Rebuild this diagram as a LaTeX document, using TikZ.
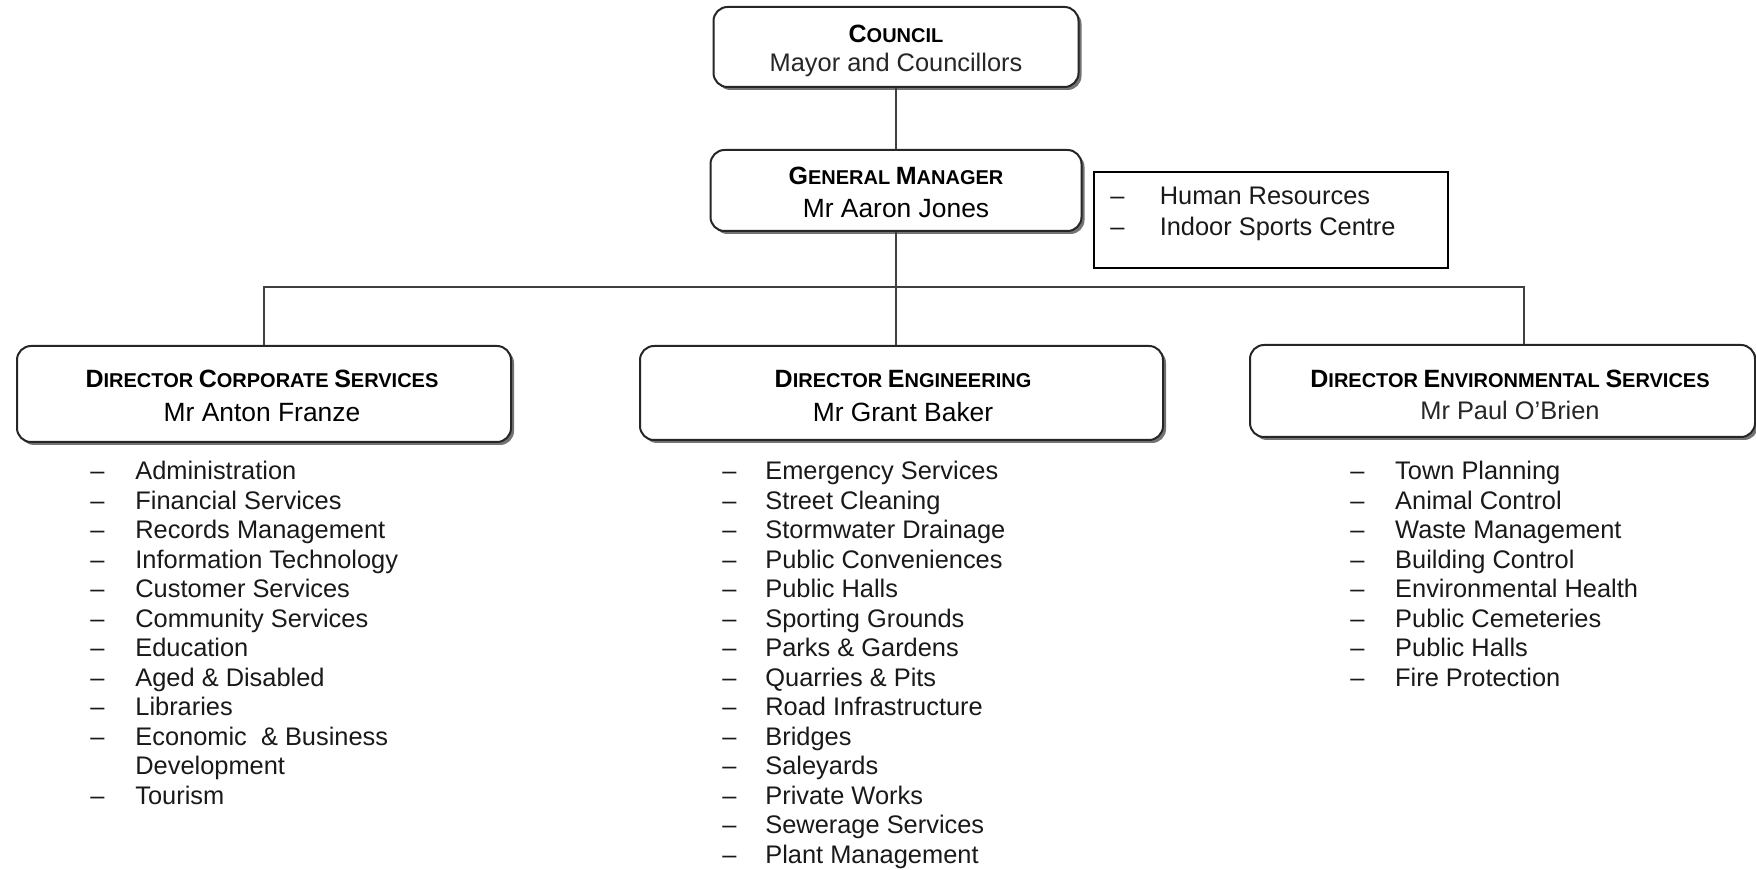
\documentclass[tikz,border=0pt]{standalone}
\usepackage{fontspec}
\setmainfont{Liberation Sans}
\usetikzlibrary{shadows}

% small-caps heading: large initial, smaller capitals
\newcommand{\scword}[2]{{\fontsize{12.5}{15}\selectfont #1}{\fontsize{10}{15}\selectfont #2}}
\newlength{\dashgap}
\newcommand{\itm}{\makebox[\dashgap][l]{–}}
\newcommand{\cont}{\hspace*{\dashgap}}

\tikzset{
  unitbox/.style={draw=black!85, line width=1pt, rounded corners=7pt, fill=white, inner sep=0pt,
    drop shadow={shadow xshift=1.5pt, shadow yshift=-1.5pt, fill=black!55, opacity=1}},
  sidebox/.style={draw=black, line width=0.7pt, fill=white, inner sep=0pt},
  titletext/.style={font=\bfseries, text=black, inner sep=0pt, anchor=base},
  nametext/.style={font=\fontsize{13.2}{15}\selectfont, text=black, inner sep=0pt, anchor=base},
  plainname/.style={font=\fontsize{12.7}{15}\selectfont, text=black!85, inner sep=0pt, anchor=base},
  item/.style={font=\fontsize{12.7}{15}\selectfont, text=black!90, inner sep=0pt, anchor=base west},
  link/.style={draw=black!75, line width=1pt},
}

\begin{document}
\begin{tikzpicture}[x=0.5pt, y=-0.5pt]
\useasboundingbox (0,0) rectangle (1756,870);

% --- boxes ---
\node[unitbox, minimum width=182.5pt, minimum height=40pt] (council) at (896,47) {};
\node[unitbox, minimum width=185.5pt, minimum height=40.5pt] (gm) at (896,190.5) {};
\node[sidebox, minimum width=177pt, minimum height=48pt] (side) at (1271,220) {};
\node[unitbox, minimum width=247pt, minimum height=48pt] (corp) at (264,394) {};
\node[unitbox, minimum width=261.5pt, minimum height=47pt] (eng) at (901.5,393) {};
\node[unitbox, minimum width=252.5pt, minimum height=46pt] (env) at (1502.5,391) {};

% --- connectors ---
\coordinate (bus) at (896,287);
\draw[link] (council.south) -- (gm.north);
\draw[link] (gm.south) -- (gm.south |- eng.north);
\draw[link] (corp.north) |- (bus) -| ([xshift=10.75pt]env.north);

% --- box texts ---
\node[titletext] (council-t) at (896,43) {\scword{C}{OUNCIL}};
\node[plainname] (council-n) at (896,72) {Mayor and Councillors};

\node[titletext] (gm-t) at (896,185) {\scword{G}{ENERAL} \scword{M}{ANAGER}};
\node[nametext] (gm-n) at (896,218) {Mr Aaron Jones};

\node[titletext] (corp-t) at (262,388) {\scword{D}{IRECTOR} \scword{C}{ORPORATE} \scword{S}{ERVICES}};
\node[nametext] (corp-n) at (262,422) {Mr Anton Franze};

\node[titletext] (eng-t) at (903,388) {\scword{D}{IRECTOR} \scword{E}{NGINEERING}};
\node[nametext] (eng-n) at (903,422) {Mr Grant Baker};

\node[titletext] (env-t) at (1510,388) {\scword{D}{IRECTOR} \scword{E}{NVIRONMENTAL} \scword{S}{ERVICES}};
\node[plainname] (env-n) at (1510,420) {Mr Paul O’Brien};

% --- side list ---
\setlength{\dashgap}{24.7pt}
\foreach \t [count=\i] in {Human Resources, Indoor Sports Centre}
  \node[item] (side-\i) at (1110,{205+(\i-1)*31}) {\itm\t};

% --- corporate services list ---
\setlength{\dashgap}{22.5pt}
\foreach \t [count=\i] in {\itm Administration, \itm Financial Services, \itm Records Management,
    \itm Information Technology, \itm Customer Services, \itm Community Services, \itm Education,
    \itm Aged \& Disabled, \itm Libraries, \itm Economic\ \ \& Business, \cont Development, \itm Tourism}
  \node[item] (corp-\i) at (90,{480+(\i-1)*29.5}) {\t};

% --- engineering list ---
\setlength{\dashgap}{21.5pt}
\foreach \t [count=\i] in {Emergency Services, Street Cleaning, Stormwater Drainage,
    Public Conveniences, Public Halls, Sporting Grounds, Parks \& Gardens, Quarries \& Pits,
    Road Infrastructure, Bridges, Saleyards, Private Works, Sewerage Services, Plant Management}
  \node[item] (eng-\i) at (722,{480+(\i-1)*29.5}) {\itm\t};

% --- environmental services list ---
\setlength{\dashgap}{22.4pt}
\foreach \t [count=\i] in {Town Planning, Animal Control, Waste Management, Building Control,
    Environmental Health, Public Cemeteries, Public Halls, Fire Protection}
  \node[item] (env-\i) at (1350,{480+(\i-1)*29.5}) {\itm\t};
\end{tikzpicture}
\end{document}
